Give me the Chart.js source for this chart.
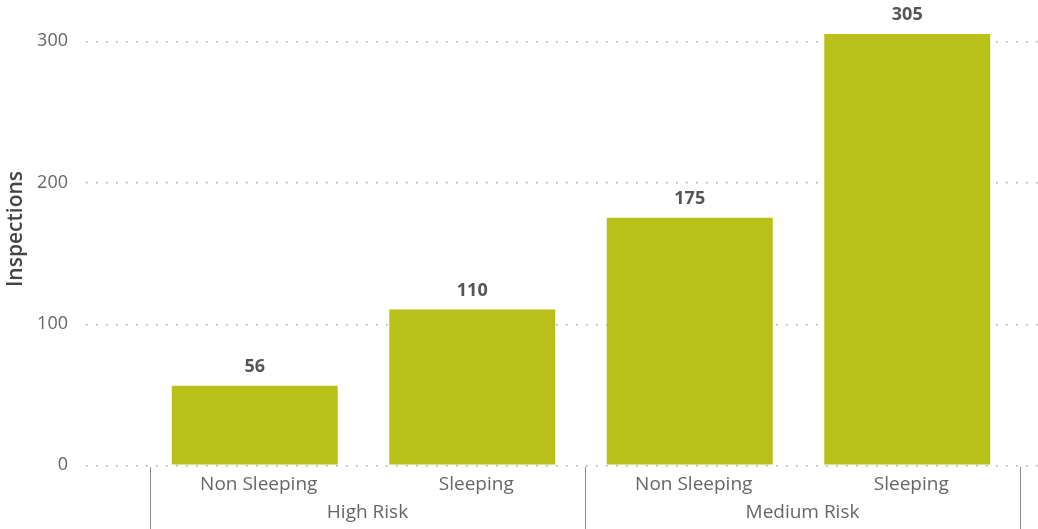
<!DOCTYPE html>
<html>
<head>
<meta charset="utf-8">
<script src="https://cdn.jsdelivr.net/npm/chart.js@4"></script>
<style>
  html, body { margin: 0; padding: 0; background: #fff; }
  #wrap { width: 1038px; height: 529px; }
</style>
</head>
<body>
<div id="wrap"><canvas id="myChart"></canvas></div>
<script>
const subLabels = ['Non Sleeping', 'Sleeping', 'Non Sleeping', 'Sleeping'];
const groupLabels = ['High Risk', 'Medium Risk'];
const inspections = [56, 110, 175, 305];
const yTicks = [0, 100, 200, 300];

const fontFamily = '"Segoe UI", "Open Sans", "Noto Sans", sans-serif';
const barShift = -4; // bars sit a little left of the label centres in the original

// dotted grid lines, wider than the plot area
const dottedGrid = {
    id: 'dottedGrid',
    beforeDatasetsDraw(chart) {
        const ctx = chart.ctx;
        const y = chart.scales.y;
        ctx.save();
        ctx.fillStyle = '#a6a6a6';
        y.ticks.forEach(t => {
            const py = Math.round(y.getPixelForValue(t.value));
            for (let px = 86; px <= 1036; px += 10) {
                ctx.fillRect(px, py, 1.5, 1.5);
            }
        });
        ctx.restore();
    }
};

const shiftBars = {
    id: 'shiftBars',
    beforeDatasetsDraw(chart) {
        chart.ctx.save();
        chart.ctx.translate(barShift, 0);
    },
    afterDatasetsDraw(chart) {
        chart.ctx.restore();
    }
};

// value labels, group separators, y title
const extras = {
    id: 'extras',
    afterDatasetsDraw(chart) {
        const ctx = chart.ctx;
        const meta = chart.getDatasetMeta(0);
        ctx.save();
        ctx.font = 'bold 18px ' + fontFamily;
        ctx.fillStyle = '#555555';
        ctx.textAlign = 'center';
        ctx.textBaseline = 'middle';
        meta.data.forEach((bar, i) => {
            ctx.fillText(inspections[i], bar.x + barShift, bar.y - 19);
        });

        const x = chart.scales.x;
        const area = chart.chartArea;
        const mid = (x.getPixelForValue(1) + x.getPixelForValue(2)) / 2;
        ctx.strokeStyle = '#8c8c8c';
        ctx.lineWidth = 1;
        [area.left, mid, area.right].forEach(px => {
            ctx.beginPath();
            ctx.moveTo(Math.round(px) + 0.5, area.bottom + 2);
            ctx.lineTo(Math.round(px) + 0.5, chart.height);
            ctx.stroke();
        });

        ctx.translate(16, 229);
        ctx.rotate(-Math.PI / 2);
        ctx.font = '600 21px ' + fontFamily;
        ctx.fillStyle = '#444444';
        ctx.fillText('Inspections', 0, 0);
        ctx.restore();
    }
};

new Chart(document.getElementById('myChart'), {
    type: 'bar',
    data: {
        labels: subLabels,
        datasets: [{
            label: 'Inspections',
            data: inspections,
            backgroundColor: '#b9c118',
            categoryPercentage: 1,
            barPercentage: 0.763
        }]
    },
    options: {
        responsive: true,
        maintainAspectRatio: false,
        animation: false,
        layout: { padding: { top: 1, right: 18, bottom: 0, left: 0 } },
        plugins: {
            legend: { display: false },
            tooltip: { enabled: false }
        },
        scales: {
            y: {
                min: 0,
                max: 320,
                ticks: {
                    stepSize: 100,
                    padding: 2,
                    color: '#666666',
                    font: { family: fontFamily, size: 18 }
                },
                afterBuildTicks: s => { s.ticks = yTicks.map(v => ({ value: v })); },
                afterFit: s => { s.width = 150; },
                grid: {
                    drawOnChartArea: false,
                    drawTicks: true,
                    tickLength: 80,
                    tickColor: 'rgba(0,0,0,0)'
                },
                border: { display: false }
            },
            x: {
                position: 'bottom',
                ticks: {
                    padding: 8,
                    color: '#666666',
                    font: { family: fontFamily, size: 19 },
                    maxRotation: 0
                },
                afterFit: s => { s.height = 30; },
                grid: { display: false, drawTicks: false },
                border: { display: false }
            },
            x2: {
                type: 'category',
                position: 'bottom',
                labels: groupLabels,
                ticks: {
                    padding: 6,
                    color: '#666666',
                    font: { family: fontFamily, size: 19 },
                    maxRotation: 0
                },
                afterFit: s => { s.height = 34; },
                grid: { display: false, drawTicks: false },
                border: { display: false }
            }
        }
    },
    plugins: [dottedGrid, shiftBars, extras]
});
</script>
</body>
</html>
